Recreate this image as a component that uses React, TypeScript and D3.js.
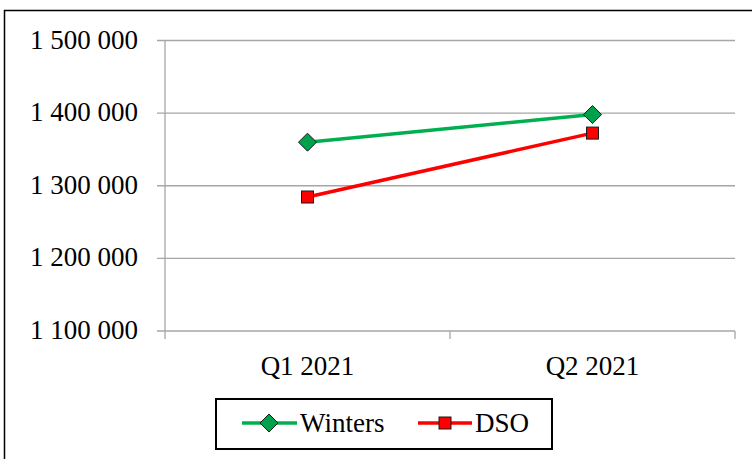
import React from "react";
import * as d3 from "d3";

const categories = ["Q1 2021", "Q2 2021"];
const winters = [1360000, 1398000];
const dso = [1284500, 1372500];
const yTicks = [1100000, 1200000, 1300000, 1400000, 1500000];

const W = 752;
const H = 459;
const textStyle: React.CSSProperties = { fontFamily: "Liberation Serif", fontSize: "27px" };

const fmt = (v: number) => d3.format(",")(v).replace(/,/g, " ");

export default function App() {
  const x = d3.scaleBand<string>().domain(categories).range([165, 735]).paddingInner(0).paddingOuter(0);
  const y = d3.scaleLinear().domain([1100000, 1500000]).range([331, 40.5]);
  const cx = (c: string) => (x(c) ?? 0) + x.bandwidth() / 2;

  const line = d3
    .line<number>()
    .x((_, i) => cx(categories[i]))
    .y((d) => y(d));

  const diamond = (px: number, py: number, r: number) =>
    `M${px},${py - r}L${px + r},${py}L${px},${py + r}L${px - r},${py}Z`;

  const xBoundaries = [165, ...categories.map((c) => (x(c) ?? 0) + x.bandwidth())];

  return (
    <svg width={W} height={H} style={{ position: "absolute", left: 0, top: 0, background: "#fff" }}>
      <rect x={0} y={0} width={W} height={H} fill="#fff" />
      <rect x={4.5} y={10.5} width={W + 20} height={H + 20} fill="none" stroke="#000" strokeWidth={1.5} />

      {/* horizontal gridlines and y tick labels */}
      {yTicks.map((t) => (
        <g key={t}>
          <line x1={157} x2={735} y1={y(t)} y2={y(t)} stroke="#a6a6a6" strokeWidth={1.3} />
          <text x={138} y={y(t) + 8} textAnchor="end" style={textStyle} fill="#000">
            {fmt(t)}
          </text>
        </g>
      ))}

      {/* y axis */}
      <line x1={165} x2={165} y1={y(1500000)} y2={y(1100000)} stroke="#a6a6a6" strokeWidth={1.3} />

      {/* x axis ticks */}
      {xBoundaries.map((b, i) => (
        <line key={i} x1={b} x2={b} y1={y(1100000)} y2={y(1100000) + 8} stroke="#a6a6a6" strokeWidth={1.3} />
      ))}
      {categories.map((c) => (
        <text key={c} x={cx(c)} y={375} textAnchor="middle" style={textStyle} fill="#000">
          {c}
        </text>
      ))}

      {/* series */}
      <path d={line(winters) ?? ""} fill="none" stroke="#00b050" strokeWidth={3.5} />
      <path d={line(dso) ?? ""} fill="none" stroke="#ff0000" strokeWidth={3.5} />
      {winters.map((v, i) => (
        <path key={i} d={diamond(cx(categories[i]), y(v), 9)} fill="#00a14b" stroke="#1a1a1a" strokeWidth={1} />
      ))}
      {dso.map((v, i) => (
        <rect
          key={i}
          x={cx(categories[i]) - 6}
          y={y(v) - 6}
          width={12}
          height={12}
          fill="#ff0000"
          stroke="#1a1a1a"
          strokeWidth={1}
        />
      ))}

      {/* legend */}
      <rect x={216} y={399} width={336} height={50} fill="#fff" stroke="#000" strokeWidth={2} />
      <line x1={242} x2={297} y1={423} y2={423} stroke="#00b050" strokeWidth={3.5} />
      <path d={diamond(269, 423, 9)} fill="#00a14b" stroke="#1a1a1a" strokeWidth={1} />
      <text x={300} y={432} style={textStyle} fill="#000">
        Winters
      </text>
      <line x1={418} x2={472} y1={423} y2={423} stroke="#ff0000" strokeWidth={3.5} />
      <rect x={439} y={417} width={12} height={12} fill="#ff0000" stroke="#1a1a1a" strokeWidth={1} />
      <text x={475} y={432} style={textStyle} fill="#000">
        DSO
      </text>
    </svg>
  );
}
